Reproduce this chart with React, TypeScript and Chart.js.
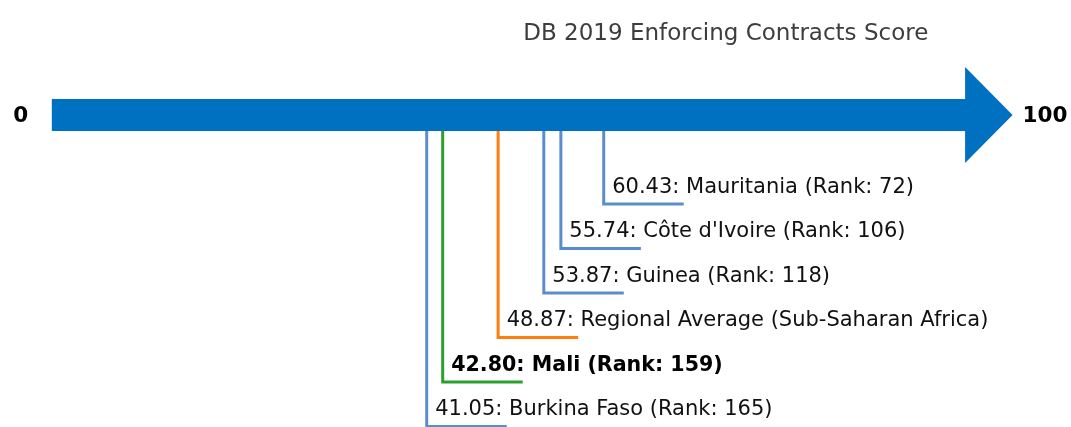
import { useEffect, useRef } from "react";
import { Chart, registerables } from "chart.js";

Chart.register(...registerables);

// ---- Data ----
const titleText = "DB 2019 Enforcing Contracts Score";
const entities = [
  "Burkina Faso",
  "Mali",
  "Regional Average (Sub-Saharan Africa)",
  "Guinea",
  "Côte d'Ivoire",
  "Mauritania",
];
const scores = [41.05, 42.8, 48.87, 53.87, 55.74, 60.43];
const ranks: (number | null)[] = [165, 159, null, 118, 106, 72];
const kinds = ["peer", "focus", "regional", "peer", "peer", "peer"];
const axisMin = 0;
const axisMax = 100;

// ---- Styles ----
const FONT = "'DejaVu Sans', 'Liberation Sans', sans-serif";
const ARROW_COLOR = "#0070c0";
const KIND_COLORS: Record<string, string> = {
  peer: "#5b8dcc",
  focus: "#2ca02c",
  regional: "#ff7f0e",
};
const SHAFT_HALF = 0.357; // in y units
const HEAD_HALF = 1.078;
const HEAD_LEN = 5.2; // in score units
const LEG_LEN = 8.76; // horizontal leg in score units
const FIRST_LEVEL = 2;

function labelFor(i: number) {
  const s = scores[i].toFixed(2);
  return ranks[i] == null
    ? `${s}: ${entities[i]}`
    : `${s}: ${entities[i]} (Rank: ${ranks[i]})`;
}

// level: highest score sits nearest the arrow
function levelFor(i: number) {
  const order = scores
    .map((s, j) => ({ s, j }))
    .sort((a, b) => b.s - a.s)
    .map((o) => o.j);
  return FIRST_LEVEL + order.indexOf(i);
}

const arrowPlugin = {
  id: "arrowPlugin",
  afterDatasetsDraw(chart: any) {
    const { ctx } = chart;
    const x = chart.scales.x;
    const y = chart.scales.y;
    const x0 = x.getPixelForValue(axisMin);
    const x1 = x.getPixelForValue(axisMax);
    const xt = x.getPixelForValue(axisMax + HEAD_LEN);
    const yc = y.getPixelForValue(0);
    const st = y.getPixelForValue(-SHAFT_HALF);
    const sb = y.getPixelForValue(SHAFT_HALF);
    const ht = y.getPixelForValue(-HEAD_HALF);
    const hb = y.getPixelForValue(HEAD_HALF);
    ctx.save();
    ctx.fillStyle = ARROW_COLOR;
    ctx.beginPath();
    ctx.moveTo(x0, st);
    ctx.lineTo(x1, st);
    ctx.lineTo(x1, ht);
    ctx.lineTo(xt, yc);
    ctx.lineTo(x1, hb);
    ctx.lineTo(x1, sb);
    ctx.lineTo(x0, sb);
    ctx.closePath();
    ctx.fill();

    // end labels
    ctx.fillStyle = "#000";
    ctx.font = `bold 21.5px ${FONT}`;
    ctx.textBaseline = "middle";
    ctx.textAlign = "right";
    ctx.fillText(String(axisMin), x0 - 23.5, yc + 1);
    ctx.textAlign = "left";
    ctx.fillText(String(axisMax), xt + 10, yc + 1);

    // title
    ctx.fillStyle = "#3d3d3d";
    ctx.font = `23px ${FONT}`;
    ctx.textAlign = "center";
    ctx.fillText(titleText, x.getPixelForValue(73.8), y.getPixelForValue(-1.83));

    // point labels
    ctx.textAlign = "left";
    ctx.textBaseline = "alphabetic";
    scores.forEach((s, i) => {
      const px = x.getPixelForValue(s) + 8.5;
      const py = y.getPixelForValue(levelFor(i)) - 11.5;
      ctx.fillStyle = kinds[i] === "focus" ? "#000" : "#111";
      ctx.font = kinds[i] === "focus" ? `bold 20.6px ${FONT}` : `21px ${FONT}`;
      ctx.fillText(labelFor(i), px, py);
    });
    ctx.restore();
  },
};

export default function App() {
  const ref = useRef<HTMLCanvasElement | null>(null);
  useEffect(() => {
    document.body.style.margin = "0";
    const canvas = ref.current;
    if (!canvas) return;
    const datasets = scores.map((s, i) => ({
      label: entities[i],
      data: [
        { x: s, y: SHAFT_HALF },
        { x: s, y: levelFor(i) },
        { x: s + LEG_LEN, y: levelFor(i) },
      ],
      borderColor: KIND_COLORS[kinds[i]],
      borderWidth: 3,
      pointRadius: 0,
      tension: 0,
      fill: false,
      clip: false as any,
      borderCapStyle: "butt" as const,
      borderJoinStyle: "miter" as const,
    }));
    const chart = new Chart(canvas, {
      type: "line",
      data: { datasets },
      options: {
        responsive: false,
        animation: false,
        maintainAspectRatio: false,
        layout: { padding: 0 },
        plugins: {
          legend: { display: false },
          title: { display: false },
          tooltip: { enabled: false },
        },
        scales: {
          x: {
            type: "linear",
            display: false,
            min: -5.672,
            max: 111.596,
          },
          y: {
            type: "linear",
            display: false,
            reverse: true,
            min: -2.5843,
            max: 7.0112,
          },
        },
      },
      plugins: [arrowPlugin],
    });
    return () => chart.destroy();
  }, []);
  return (
    <div style={{ width: 1071, height: 427, background: "#fff" }}>
      <canvas ref={ref} width={1071} height={427} style={{ display: "block" }} />
    </div>
  );
}
